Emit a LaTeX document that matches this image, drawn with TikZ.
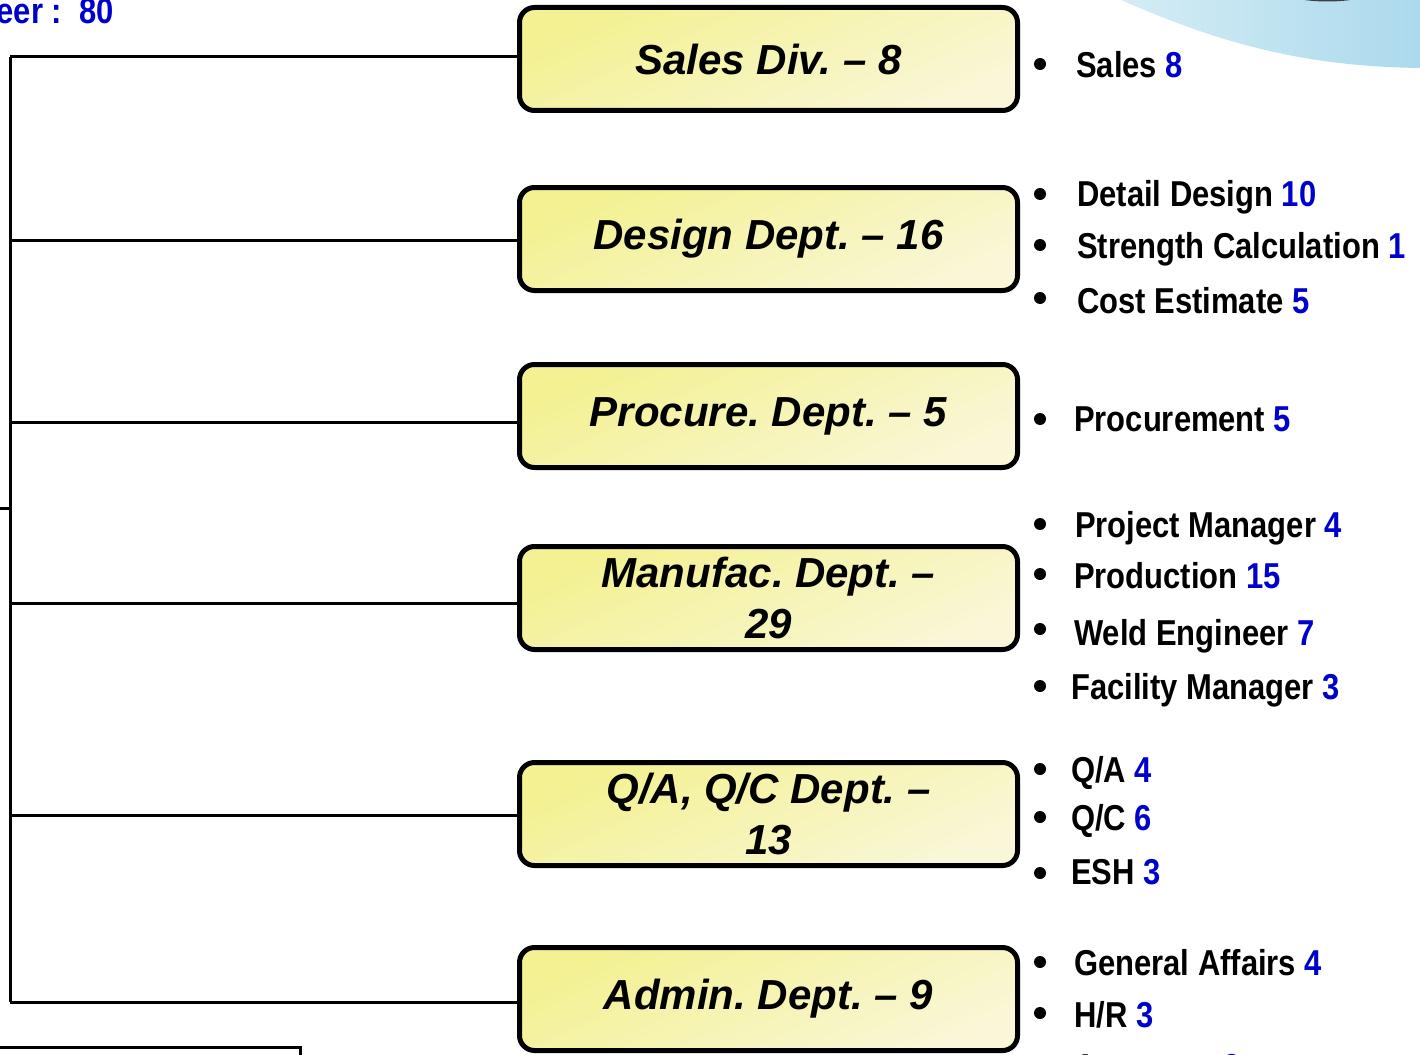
\documentclass[tikz,border=0pt]{standalone}
\usepackage{fontspec}
\setmainfont{Liberation Sans}
\newfontfamily\narrowfont[FakeStretch=0.86]{Liberation Sans}
\usetikzlibrary{positioning}
\frenchspacing

\definecolor{deptA}{RGB}{243,241,145}
\definecolor{deptB}{RGB}{249,247,215}
\definecolor{num}{RGB}{0,0,205}
\definecolor{skyA}{RGB}{214,237,245}
\definecolor{skyB}{RGB}{170,217,236}

\tikzset{
	dept/.style={draw, line width=5pt, rounded corners=15pt,
		minimum width=498pt, minimum height=103pt,
		top color=deptA, bottom color=deptB, shading angle=25,
		align=center, inner sep=0pt,
		font=\bfseries\itshape\fontsize{42}{51}\selectfont},
	entry/.style={anchor=base west, inner sep=0pt,
		font=\narrowfont\bfseries\fontsize{36}{40}\selectfont},
	link/.style={line width=3pt},
}

\begin{document}
\begin{tikzpicture}[x=1pt,y=-1pt]
	\useasboundingbox (0,0) rectangle (1420,1054);
	\clip (0,0) rectangle (1420,1054);

	% sky blob and what is cut off round the edges
	\shade[left color=skyA, right color=skyB]
		(1110,-5) .. controls (1220,45) and (1310,68) .. (1430,68) -- (1430,-5) -- cycle;
	\fill[black!75] (1290,-3) .. controls (1310,3) and (1345,3) .. (1365,-3) -- cycle;
	\node[anchor=base east, inner sep=0pt, text=num,
		font=\narrowfont\bfseries\fontsize{36}{40}\selectfont] (total) at (114,24) {Engineer :\ \ 80};
	\draw[link] (-5,1047) -- (300,1047) -- (300,1070);

	% departments
	\node[dept] (sales)   at (768.5,59)  {Sales Div. -- 8};
	\node[dept] (design)  at (768.5,239) {Design Dept. -- 16};
	\node[dept] (procure) at (768.5,416) {Procure. Dept. -- 5};
	\node[dept] (manufac) at (768.5,598) {Manufac. Dept. --\\29};
	\node[dept] (qaqc)    at (768.5,814) {Q/A, Q/C Dept. --\\13};
	\node[dept] (admin)   at (768.5,999) {Admin. Dept. -- 9};

	% tree lines
	\coordinate (top) at (10,57);
	\coordinate (bottom) at (10,1002);
	\coordinate (mid) at (10,508);
	\draw[link] (top) -- (bottom);
	\draw[link] (mid) -- ++(-20,0);
	\draw[link] (top) -- (top -| sales.west);
	\draw[link] ([yshift=-1pt]design.west -| top) -- ([yshift=-1pt]design.west);
	\draw[link] ([yshift=-6pt]procure.west -| top) -- ([yshift=-6pt]procure.west);
	\draw[link] ([yshift=-5pt]manufac.west -| top) -- ([yshift=-5pt]manufac.west);
	\draw[link] ([yshift=-1pt]qaqc.west -| top) -- ([yshift=-1pt]qaqc.west);
	\draw[link] (bottom) -- (bottom -| admin.west);

	% staff lists
	\foreach \y in {64,194,245,298,419,524,574,629,686,769,817,873,962,1013,1064}
		\fill (1040,\y) circle (6);

	\node[entry] (sl)  at (1076,78)   {Sales \textcolor{num}{8}};
	\node[entry] (dd)  at (1077,206)  {Detail Design \textcolor{num}{10}};
	\node[entry] (sc)  at (1077,258)  {Strength Calculation \textcolor{num}{1}};
	\node[entry] (ce)  at (1077,313)  {Cost Estimate \textcolor{num}{5}};
	\node[entry] (pc)  at (1074,431)  {Procurement \textcolor{num}{5}};
	\node[entry] (pm)  at (1075,537)  {Project Manager \textcolor{num}{4}};
	\node[entry] (pd)  at (1074,588)  {Production \textcolor{num}{15}};
	\node[entry] (we)  at (1074,645)  {Weld Engineer \textcolor{num}{7}};
	\node[entry] (fm)  at (1071,699)  {Facility Manager \textcolor{num}{3}};
	\node[entry] (qa)  at (1071,782)  {Q/A \textcolor{num}{4}};
	\node[entry] (qc)  at (1071,830)  {Q/C \textcolor{num}{6}};
	\node[entry] (esh) at (1071,884)  {ESH \textcolor{num}{3}};
	\node[entry] (ga)  at (1074,975)  {General Affairs \textcolor{num}{4}};
	\node[entry] (hr)  at (1074,1027) {H/R \textcolor{num}{3}};
	\node[entry] (ac)  at (1074,1079) {Accounts \textcolor{num}{2}};
\end{tikzpicture}
\end{document}
